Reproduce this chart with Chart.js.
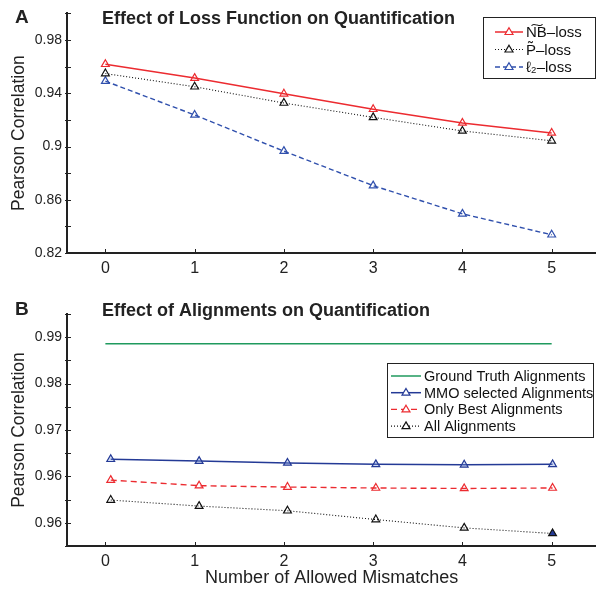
<!DOCTYPE html>
<html>
<head>
<meta charset="utf-8">
<script src="https://cdn.jsdelivr.net/npm/chart.js@4.4.0/dist/chart.umd.min.js"></script>
<style>
    body { margin: 0; background: #fff; }
    #wrap { position: relative; width: 596px; height: 592px; overflow: hidden; }
    canvas { position: absolute; left: 0; }
</style>
</head>
<body>
<div id="wrap">
    <canvas id="chart-a" width="602" height="290" style="top:0"></canvas>
    <canvas id="chart-b" width="602" height="302" style="top:290px"></canvas>
</div>
<script>
// x values (number of allowed mismatches)
const mismatches = [0, 1, 2, 3, 4, 5];
const mismatchesB = [0.06, 1.05, 2.04, 3.03, 4.02, 5.01];

// panel A: effect of loss function
const nbLoss = [0.9618, 0.9514, 0.9396, 0.9280, 0.9177, 0.9102];
const pLoss = [0.9548, 0.9449, 0.9327, 0.9219, 0.9117, 0.9043];
const l2Loss = [0.9491, 0.9237, 0.8965, 0.8706, 0.8494, 0.8337];

// panel B: effect of alignments
const groundTruth = [0.9886, 0.9886, 0.9886, 0.9886, 0.9886, 0.9886];
const mmoSelected = [0.9637, 0.9633, 0.9629, 0.9626, 0.9625, 0.9626];
const onlyBest = [0.9592, 0.9580, 0.9577, 0.9575, 0.9574, 0.9575];
const allAlign = [0.9549, 0.9536, 0.9526, 0.9507, 0.9489, 0.9477];

// y ticks (labels as printed in the figure)
const yTicksA = [0.82, 0.84, 0.86, 0.88, 0.90, 0.92, 0.94, 0.96, 0.98, 1.00];
const yLabelsA = ['0.82', '', '0.86', '', '0.9', '', '0.94', '', '0.98', ''];
const yTicksB = [0.945, 0.95, 0.955, 0.96, 0.965, 0.97, 0.975, 0.98, 0.985, 0.99, 0.995];
const yLabelsB = ['', '0.96', '', '0.96', '', '0.97', '', '0.98', '', '0.99', ''];

const FONT = "'Liberation Sans', Arial, sans-serif";
const RED = '#ec2b30';
const BLUE = '#3050ad';
const NAVY = '#243a96';
const GREEN = '#1f9a5e';
const AXIS = '#222';

function points(xs, ys) {
    return xs.map((x, i) => ({ x: x, y: ys[i] }));
}

const inwardTicks = {
    id: 'inwardTicks',
    afterDatasetsDraw(chart) {
        const { ctx, chartArea, scales } = chart;
        ctx.save();
        ctx.strokeStyle = AXIS;
        ctx.lineWidth = 1;
        scales.y.ticks.forEach(t => {
            const y = Math.round(scales.y.getPixelForValue(t.value)) + 0.5;
            ctx.beginPath();
            ctx.moveTo(chartArea.left - 2, y);
            ctx.lineTo(chartArea.left + 4, y);
            ctx.stroke();
        });
        scales.x.ticks.forEach(t => {
            const x = Math.round(scales.x.getPixelForValue(t.value)) + 0.5;
            ctx.beginPath();
            ctx.moveTo(x, chartArea.bottom);
            ctx.lineTo(x, chartArea.bottom - 4);
            ctx.stroke();
        });
        ctx.restore();
    }
};

function drawTriangle(ctx, x, y, r, stroke, fill) {
    ctx.beginPath();
    ctx.moveTo(x, y - r);
    ctx.lineTo(x + r * 0.95, y + r * 0.6);
    ctx.lineTo(x - r * 0.95, y + r * 0.6);
    ctx.closePath();
    if (fill) { ctx.fillStyle = fill; ctx.fill(); }
    ctx.strokeStyle = stroke;
    ctx.stroke();
}

const panelLegend = {
    id: 'panelLegend',
    afterDraw(chart, args, opts) {
        const ctx = chart.ctx;
        ctx.save();
        // panel letter + title
        ctx.fillStyle = '#222';
        ctx.textBaseline = 'middle';
        ctx.textAlign = 'left';
        ctx.font = 'bold 19px ' + FONT;
        ctx.fillText(opts.letter, opts.letterX, opts.letterY);
        ctx.font = 'bold 18px ' + FONT;
        ctx.fillText(opts.title, opts.titleX, opts.titleY);

        // legend box
        const b = opts.box;
        ctx.fillStyle = '#fff';
        ctx.fillRect(b.x, b.y, b.w, b.h);
        ctx.strokeStyle = AXIS;
        ctx.lineWidth = 1;
        ctx.strokeRect(b.x + 0.5, b.y + 0.5, b.w, b.h);

        ctx.font = opts.fontSize + 'px ' + FONT;
        chart.data.datasets.forEach((ds, i) => {
            const y = b.y + opts.firstRow + i * opts.rowGap;
            ctx.strokeStyle = ds.borderColor;
            ctx.lineWidth = ds.borderWidth;
            ctx.setLineDash(ds.borderDash || []);
            ctx.beginPath();
            ctx.moveTo(b.x + opts.lineX0, y);
            ctx.lineTo(b.x + opts.lineX1, y);
            ctx.stroke();
            ctx.setLineDash([]);
            if (ds.pointRadius > 0) {
                ctx.lineWidth = 1.2;
                drawTriangle(ctx, b.x + (opts.lineX0 + opts.lineX1) / 2, y, 4.2, ds.borderColor, '#fff');
            }
            ctx.fillStyle = '#111';
            ctx.fillText(ds.label, b.x + opts.textX, y + 1);
        });
        ctx.restore();
    }
};

function makeScales(yTicks, yLabels, yMin, yMax, xMin, xMax, xHeight, xTitle) {
    return {
        x: {
            type: 'linear',
            min: xMin,
            max: xMax,
            afterBuildTicks: s => { s.ticks = mismatches.map(v => ({ value: v })); },
            afterFit: s => { s.height = xHeight; },
            grid: { display: false, drawTicks: false },
            border: { display: true, color: AXIS, width: 2 },
            ticks: {
                maxRotation: 0,
                autoSkip: false,
                padding: 6,
                color: '#222',
                font: { family: FONT, size: 16 },
                callback: v => String(v)
            },
            title: {
                display: !!xTitle,
                text: xTitle || '',
                color: '#222',
                font: { family: FONT, size: 18 },
                padding: { top: 0, bottom: 3 }
            }
        },
        y: {
            min: yMin,
            max: yMax,
            afterBuildTicks: s => { s.ticks = yTicks.map(v => ({ value: v })); },
            afterFit: s => { s.width = 67; },
            grid: { display: false, drawTicks: false },
            border: { display: true, color: AXIS, width: 2 },
            ticks: {
                autoSkip: false,
                padding: 5,
                color: '#222',
                font: { family: FONT, size: 14 },
                callback: (v, i) => yLabels[i]
            },
            title: {
                display: true,
                text: 'Pearson Correlation',
                color: '#222',
                font: { family: FONT, size: 17.5 },
                padding: { top: 9, bottom: 0 }
            }
        }
    };
}

const lossChart = new Chart(document.getElementById('chart-a'), {
    type: 'line',
    data: {
        datasets: [{
            label: 'N\u0360B\u2013loss',
            data: points(mismatches, nbLoss),
            borderColor: RED,
            borderWidth: 1.5,
            pointStyle: 'triangle',
            pointRadius: 4.5,
            pointBorderWidth: 1.2,
            pointBackgroundColor: 'rgba(255,255,255,0)',
            pointBorderColor: RED
        }, {
            label: 'P\u0303\u2013loss',
            data: points(mismatches, pLoss),
            borderColor: '#111',
            borderWidth: 1.1,
            borderDash: [1, 2],
            pointStyle: 'triangle',
            pointRadius: 4.5,
            pointBorderWidth: 1.2,
            pointBackgroundColor: 'rgba(255,255,255,0)',
            pointBorderColor: '#111'
        }, {
            label: '\u2113\u2082\u2013loss',
            data: points(mismatches, l2Loss),
            borderColor: BLUE,
            borderWidth: 1.4,
            borderDash: [5, 3],
            pointStyle: 'triangle',
            pointRadius: 4.5,
            pointBorderWidth: 1.2,
            pointBackgroundColor: 'rgba(255,255,255,0)',
            pointBorderColor: BLUE
        }]
    },
    options: {
        responsive: false,
        animation: false,
        layout: { padding: { top: 12, right: 0, bottom: 0, left: 0 } },
        scales: makeScales(yTicksA, yLabelsA, 0.82, 1.0, -0.43, 5.5, 37, null),
        plugins: {
            legend: { display: false },
            tooltip: { enabled: false },
            panelLegend: {
                letter: 'A', letterX: 15, letterY: 18,
                title: 'Effect of Loss Function on Quantification', titleX: 102, titleY: 19,
                box: { x: 483, y: 17, w: 112, h: 61 },
                firstRow: 15, rowGap: 17.5,
                lineX0: 12, lineX1: 40, textX: 43, fontSize: 15
            }
        }
    },
    plugins: [inwardTicks, panelLegend]
});

const alignChart = new Chart(document.getElementById('chart-b'), {
    type: 'line',
    data: {
        datasets: [{
            label: 'Ground Truth Alignments',
            data: points(mismatches, groundTruth),
            borderColor: GREEN,
            borderWidth: 1.5,
            pointRadius: 0
        }, {
            label: 'MMO selected Alignments',
            data: points(mismatchesB, mmoSelected),
            borderColor: NAVY,
            borderWidth: 1.5,
            pointStyle: 'triangle',
            pointRadius: 4.5,
            pointBorderWidth: 1.2,
            pointBackgroundColor: 'rgba(120,150,220,0.35)',
            pointBorderColor: NAVY
        }, {
            label: 'Only Best Alignments',
            data: points(mismatchesB, onlyBest),
            borderColor: RED,
            borderWidth: 1.4,
            borderDash: [6, 4],
            pointStyle: 'triangle',
            pointRadius: 4.5,
            pointBorderWidth: 1.2,
            pointBackgroundColor: 'rgba(255,255,255,0)',
            pointBorderColor: RED
        }, {
            label: 'All Alignments',
            data: points(mismatchesB, allAlign),
            borderColor: '#111',
            borderWidth: 1.1,
            borderDash: [1, 2],
            pointStyle: 'triangle',
            pointRadius: 4.5,
            pointBorderWidth: 1.2,
            pointBackgroundColor: c => c.dataIndex === allAlign.length - 1 ? NAVY : 'rgba(255,255,255,0)',
            pointBorderColor: '#111'
        }]
    },
    options: {
        responsive: false,
        animation: false,
        layout: { padding: { top: 24, right: 0, bottom: 0, left: 0 } },
        scales: makeScales(yTicksB, yLabelsB, 0.945, 0.995, -0.43, 5.5, 46, 'Number of Allowed Mismatches'),
        plugins: {
            legend: { display: false },
            tooltip: { enabled: false },
            panelLegend: {
                letter: 'B', letterX: 15, letterY: 20,
                title: 'Effect of Alignments on Quantification', titleX: 102, titleY: 21.5,
                box: { x: 387, y: 73, w: 206, h: 74 },
                firstRow: 13, rowGap: 16.7,
                lineX0: 4, lineX1: 34, textX: 37, fontSize: 14.5
            }
        }
    },
    plugins: [inwardTicks, panelLegend]
});
</script>
</body>
</html>
